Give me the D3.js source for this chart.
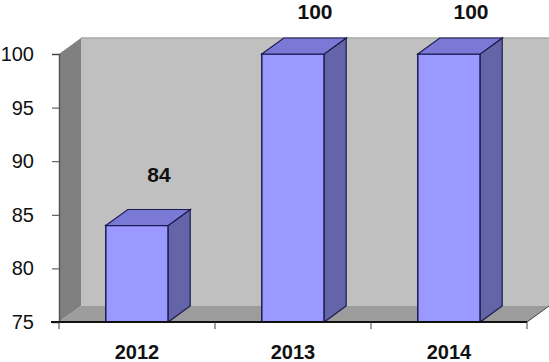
<!DOCTYPE html>
<html><head><meta charset="utf-8">
<script src="https://cdn.jsdelivr.net/npm/d3@7"></script>
<style>html,body{margin:0;padding:0;background:#fff;}svg{display:block;}</style>
</head><body>
<svg id="chart" width="549" height="362"></svg>
<script>
const categories = ["2012", "2013", "2014"];
const values = [84, 100, 100];
const yTicks = [75, 80, 85, 90, 95, 100];

const W = 549, H = 362;
const svg = d3.select("#chart");
const dx = 22, dy = 16;
const x = d3.scaleBand().domain(categories).range([59, 527]).padding(0);
const y = d3.scaleLinear().domain([75, 100]).range([322, 54]);
const x0 = x.range()[0], x1 = x.range()[1];
const yb = y(75), yt = y(100);

// back wall
svg.append("polygon")
  .attr("points", [[x0+dx, yt-dy],[x1+dx, yt-dy],[x1+dx, yb-dy],[x0+dx, yb-dy]].join(" "))
  .attr("fill", "#c0c0c0");
svg.append("line").attr("x1", x0+dx).attr("x2", x1+dx).attr("y1", yt-dy).attr("y2", yt-dy)
  .attr("stroke", "#a8a8a8").attr("stroke-width", 1.5);
// left wall
svg.append("polygon")
  .attr("points", [[x0, yt],[x0+dx, yt-dy],[x0+dx, yb-dy],[x0, yb]].join(" "))
  .attr("fill", "#808080");
// floor
svg.append("polygon")
  .attr("points", [[x0, yb],[x0+dx, yb-dy],[x1+dx, yb-dy],[x1, yb]].join(" "))
  .attr("fill", "#9c9c9c");

// bars
const bw = x.bandwidth() * 0.4;
const stroke = "#1c1c50";
const g = svg.append("g");
categories.forEach((c, i) => {
  const left = x(c) + (x.bandwidth() - bw) / 2;
  const right = left + bw;
  const top = y(values[i]);
  // front
  g.append("rect").attr("x", left).attr("y", top).attr("width", bw).attr("height", yb - top)
    .attr("fill", "#9999ff").attr("stroke", stroke).attr("stroke-width", 1.5);
  // side
  g.append("polygon").attr("points", [[right, top],[right+dx, top-dy],[right+dx, yb-dy],[right, yb]].join(" "))
    .attr("fill", "#6464a8").attr("stroke", stroke).attr("stroke-width", 1.2);
  // top
  g.append("polygon").attr("points", [[left, top],[left+dx, top-dy],[right+dx, top-dy],[right, top]].join(" "))
    .attr("fill", "#7a7ad6").attr("stroke", stroke).attr("stroke-width", 1.2);
  // data label
  g.append("text").attr("x", left + bw/2 + dx).attr("y", Math.max(top - dy - 28, 19))
    .attr("text-anchor", "middle").attr("font-family", "Liberation Sans, Arial, sans-serif")
    .attr("font-weight", "bold").attr("font-size", 21).attr("fill", "#111").text(values[i]);
});

// y axis
const yAxis = svg.append("g").attr("transform", `translate(${x0},0)`)
  .call(d3.axisLeft(y).tickValues(yTicks).tickSize(7).tickPadding(18));
yAxis.select(".domain").attr("stroke", "#555").attr("stroke-width", 1.5);
yAxis.selectAll(".tick line").attr("stroke", "#444");
yAxis.selectAll(".tick text").attr("font-family", "Liberation Sans, Arial, sans-serif")
  .attr("font-size", 20).attr("fill", "#111");

// x axis line
svg.append("line").attr("x1", x0 - 8).attr("x2", x1).attr("y1", yb).attr("y2", yb)
  .attr("stroke", "#111").attr("stroke-width", 2);
// right floor edge
svg.append("line").attr("x1", x1).attr("x2", x1+dx).attr("y1", yb).attr("y2", yb-dy)
  .attr("stroke", "#444").attr("stroke-width", 1);
// category ticks at band boundaries
const bounds = categories.map(c => x(c)).concat([x1]);
svg.selectAll(".ctick").data(bounds).enter().append("line")
  .attr("x1", d => d).attr("x2", d => d).attr("y1", yb).attr("y2", yb + 7)
  .attr("stroke", "#444").attr("stroke-width", 1);
// category labels
svg.selectAll(".clab").data(categories).enter().append("text")
  .attr("x", d => x(d) + x.bandwidth()/2).attr("y", 359)
  .attr("text-anchor", "middle").attr("font-family", "Liberation Sans, Arial, sans-serif")
  .attr("font-weight", "bold").attr("font-size", 20).attr("fill", "#111").text(d => d);
</script>
</body></html>
